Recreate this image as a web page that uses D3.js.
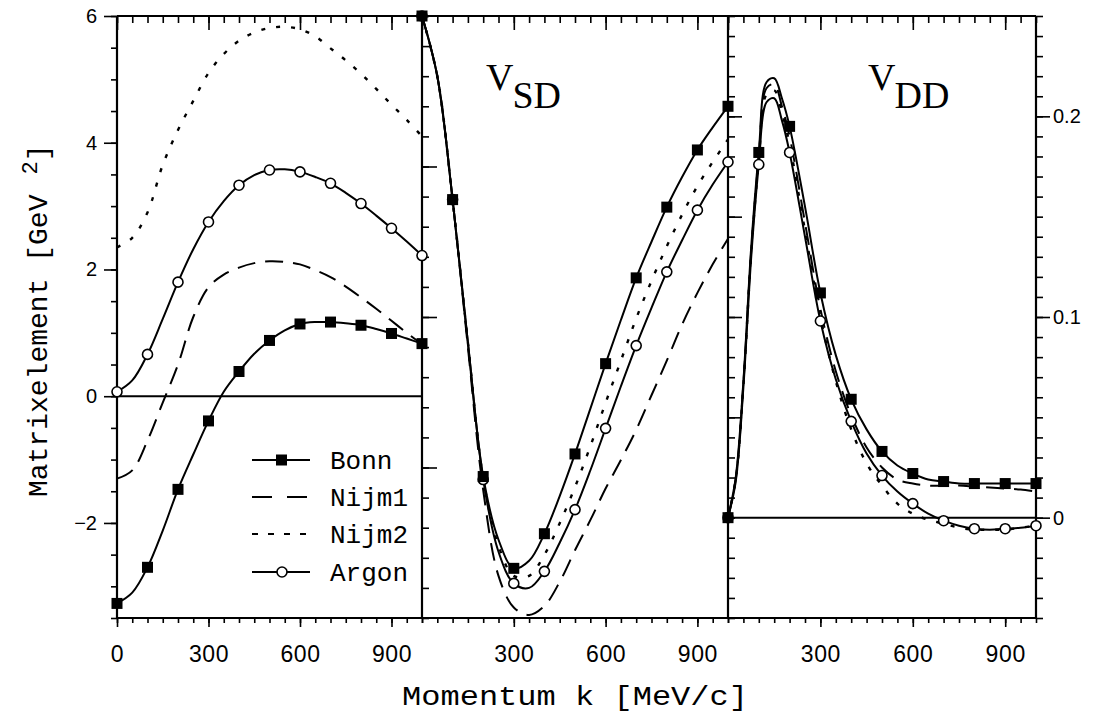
<!DOCTYPE html>
<html><head><meta charset="utf-8">
<script src="https://cdn.jsdelivr.net/npm/d3@7"></script>
<style>body{margin:0;background:#fff}</style>
</head><body>
<svg id="c" width="1098" height="721"></svg>
<script>
// ---- data ----
const kGrid   = [0,50,100,150,200,250,300,350,400,450,500,550,600,650,700,750,800,850,900,950,1000];
const kGridDD = [0,25,50,75,100,125,150,175,200,250,300,350,400,450,500,550,600,650,700,750,800,850,900,950,1000];
const seriesNames = ["Bonn","Nijm1","Nijm2","Argon"];
const xTickValuesFirst = [0,300,600,900];
const xTickLabelsFirst = ["0","300","600","900"];
const xTickValuesOther = [300,600,900];
const xTickLabelsOther = ["300","600","900"];
const yLeftTicks = [-2,0,2,4,6];
const yLeftTickLabels = ["\u22122","0","2","4","6"];
const yRightTicks = [0,0.1,0.2];
const yRightTickLabels = ["0","0.1","0.2"];

// left panel (V_SS), GeV^-2
const vssBonn  = [-3.27,-3.10,-2.70,-2.12,-1.47,-0.92,-0.39,0.07,0.39,0.67,0.88,1.04,1.14,1.17,1.17,1.15,1.12,1.06,0.99,0.91,0.83];
const vssNijm1 = [-1.30,-1.17,-0.70,-0.10,0.50,1.25,1.72,1.92,2.03,2.10,2.13,2.12,2.08,1.99,1.88,1.73,1.56,1.38,1.19,1.00,0.82];
const vssNijm2 = [2.35,2.50,2.90,3.65,4.20,4.66,5.10,5.40,5.61,5.74,5.81,5.83,5.79,5.68,5.49,5.30,5.09,4.85,4.60,4.36,4.10];
const vssArgon = [0.07,0.25,0.66,1.22,1.80,2.32,2.75,3.08,3.33,3.49,3.57,3.58,3.54,3.46,3.36,3.21,3.04,2.85,2.65,2.44,2.22];

// middle panel (V_SD), unlabeled scale
const vsdBonn  = [2.00,1.60,0.78,-0.17,-1.06,-1.48,-1.67,-1.62,-1.44,-1.19,-0.91,-0.61,-0.31,-0.02,0.26,0.50,0.73,0.93,1.11,1.26,1.40];
const vsdNijm1 = [2.00,1.60,0.78,-0.20,-1.15,-1.72,-1.93,-1.98,-1.92,-1.76,-1.55,-1.35,-1.14,-0.95,-0.75,-0.52,-0.29,-0.05,0.16,0.35,0.52];
const vsdNijm2 = [2.00,1.60,0.78,-0.17,-1.07,-1.52,-1.72,-1.72,-1.58,-1.37,-1.13,-0.86,-0.57,-0.29,-0.01,0.24,0.47,0.68,0.87,1.03,1.18];
const vsdArgon = [2.00,1.60,0.78,-0.17,-1.08,-1.56,-1.77,-1.80,-1.69,-1.50,-1.28,-1.02,-0.74,-0.46,-0.19,0.06,0.30,0.51,0.71,0.88,1.03];

// right panel (V_DD)
const vddBonn  = [0,0.020,0.068,0.134,0.182,0.217,0.219,0.209,0.195,0.155,0.112,0.081,0.059,0.044,0.033,0.026,0.022,0.019,0.018,0.017,0.017,0.017,0.017,0.017,0.017];
const vddNijm1 = [0,0.019,0.067,0.132,0.180,0.214,0.216,0.205,0.190,0.147,0.104,0.073,0.051,0.035,0.025,0.019,0.017,0.016,0.016,0.016,0.0155,0.015,0.0145,0.014,0.013];
const vddNijm2 = [0,0.019,0.066,0.131,0.178,0.211,0.213,0.202,0.186,0.143,0.100,0.068,0.044,0.027,0.016,0.007,0.002,-0.001,-0.003,-0.005,-0.006,-0.006,-0.006,-0.005,-0.004];
const vddArgon = [0,0.018,0.065,0.129,0.176,0.207,0.209,0.198,0.182,0.140,0.098,0.069,0.048,0.032,0.021,0.013,0.007,0.002,-0.0015,-0.004,-0.0055,-0.006,-0.0055,-0.005,-0.004];

// ---- layout ----
const svg = d3.select("#c");
const yTop = 16, yBot = 618;
const xL = d3.scaleLinear([0,1000],[117,422]);
const xM = d3.scaleLinear([0,1000],[422,728]);
const xR = d3.scaleLinear([0,1000],[728,1036]);
const yL = d3.scaleLinear([-3.5,6],[yBot,yTop]);
const yM = d3.scaleLinear([-2,2],[yBot,yTop]);
const yR = d3.scaleLinear([-0.05,0.25],[yBot,yTop]);

const styles = {
  Bonn:  {dash:null, w:2, marker:"square"},
  Nijm1: {dash:"18,10", w:2, marker:null},
  Nijm2: {dash:"4,11", w:2.4, marker:null},
  Argon: {dash:null, w:2, marker:"circle"}
};

const panels = [
  {x:xL, y:yL, k:kGrid,   s:{Bonn:vssBonn, Nijm1:vssNijm1, Nijm2:vssNijm2, Argon:vssArgon}},
  {x:xM, y:yM, k:kGrid,   s:{Bonn:vsdBonn, Nijm1:vsdNijm1, Nijm2:vsdNijm2, Argon:vsdArgon}},
  {x:xR, y:yR, k:kGridDD, s:{Bonn:vddBonn, Nijm1:vddNijm1, Nijm2:vddNijm2, Argon:vddArgon}}
];

function styleAxis(g){
  g.select(".domain").remove();
  g.selectAll(".tick line").attr("stroke","#000").attr("stroke-width",1.6);
  g.selectAll(".tick text").attr("fill","#000").attr("font-family","'Liberation Sans', Arial, sans-serif");
}

// axes / ticks
[xL,xM,xR].forEach((x,pi) => {
  const tv = pi===0 ? xTickValuesFirst : xTickValuesOther;
  const tl = pi===0 ? xTickLabelsFirst : xTickLabelsOther;
  svg.append("g").attr("transform",`translate(0,${yBot})`)
    .call(d3.axisBottom(x).tickValues(kGrid).tickSize(5).tickFormat("")).call(styleAxis);
  const gb = svg.append("g").attr("transform",`translate(0,${yBot})`)
    .call(d3.axisBottom(x).tickValues(tv).tickSize(9).tickPadding(19).tickFormat((d,i)=>tl[i])).call(styleAxis);
  gb.selectAll(".tick text").attr("font-size",23).attr("letter-spacing","0.6px");
  svg.append("g").attr("transform",`translate(0,${yTop})`)
    .call(d3.axisTop(x).tickValues(kGrid).tickSize(-7).tickFormat("")).call(styleAxis);
  svg.append("g").attr("transform",`translate(0,${yTop})`)
    .call(d3.axisTop(x).tickValues(xTickValuesFirst).tickSize(-14).tickFormat("")).call(styleAxis);
});

// left axis
svg.append("g").attr("transform",`translate(117,0)`)
  .call(d3.axisLeft(yL).tickValues(d3.range(-3.5,6.01,0.5)).tickSize(6).tickFormat("")).call(styleAxis);
const gl = svg.append("g").attr("transform",`translate(117,0)`)
  .call(d3.axisLeft(yL).tickValues(yLeftTicks).tickSize(13).tickPadding(7).tickFormat((d,i)=>yLeftTickLabels[i])).call(styleAxis);
gl.selectAll(".tick text").attr("font-size",20);

// middle panel inner ticks (on its left edge)
svg.append("g").attr("transform",`translate(422,0)`)
  .call(d3.axisRight(yM).tickValues(d3.range(-2,2.01,0.2)).tickSize(7).tickFormat("")).call(styleAxis);
svg.append("g").attr("transform",`translate(422,0)`)
  .call(d3.axisRight(yM).tickValues([-1,0,1]).tickSize(15).tickFormat("")).call(styleAxis);

// right panel inner ticks (on its left edge)
svg.append("g").attr("transform",`translate(728,0)`)
  .call(d3.axisRight(yR).tickValues(d3.range(-0.05,0.2501,0.01)).tickSize(7).tickFormat("")).call(styleAxis);
svg.append("g").attr("transform",`translate(728,0)`)
  .call(d3.axisRight(yR).tickValues([0.05,0.1,0.15,0.2]).tickSize(14).tickFormat("")).call(styleAxis);

// right axis
svg.append("g").attr("transform",`translate(1036,0)`)
  .call(d3.axisRight(yR).tickValues(d3.range(-0.05,0.2501,0.01)).tickSize(7).tickFormat("")).call(styleAxis);
const gr = svg.append("g").attr("transform",`translate(1036,0)`)
  .call(d3.axisRight(yR).tickValues(yRightTicks).tickSize(14).tickPadding(3).tickFormat((d,i)=>yRightTickLabels[i])).call(styleAxis);
gr.selectAll(".tick text").attr("font-size",20);

// zero lines
svg.append("line").attr("x1",xL(0)).attr("x2",xL(1000)).attr("y1",yL(0)).attr("y2",yL(0)).attr("stroke","#000").attr("stroke-width",2);
svg.append("line").attr("x1",xR(0)).attr("x2",xR(1000)).attr("y1",yR(0)).attr("y2",yR(0)).attr("stroke","#000").attr("stroke-width",2);

// frame
const frame = svg.append("g").attr("stroke","#000").attr("stroke-width",2.2).attr("fill","none");
frame.append("line").attr("x1",117).attr("x2",1036).attr("y1",yTop).attr("y2",yTop);
frame.append("line").attr("x1",117).attr("x2",1036).attr("y1",yBot).attr("y2",yBot);
[117,422,728,1036].forEach(xx => frame.append("line").attr("x1",xx).attr("x2",xx).attr("y1",yTop).attr("y2",yBot));

// curves
const order = ["Nijm1","Nijm2","Argon","Bonn"];
panels.forEach(p => {
  const line = d3.line().x((d,i)=>p.x(p.k[i])).y(d=>p.y(d)).curve(d3.curveCatmullRom.alpha(0.5));
  order.forEach(name => {
    const st = styles[name];
    svg.append("path").datum(p.s[name]).attr("d",line)
      .attr("fill","none").attr("stroke","#000").attr("stroke-width",st.w)
      .attr("stroke-dasharray",st.dash);
  });
  const pts = name => p.s[name].map((v,i)=>({k:p.k[i],v})).filter(d=>d.k%100===0);
  svg.append("g").selectAll("circle").data(pts("Argon")).join("circle")
    .attr("cx",d=>p.x(d.k)).attr("cy",d=>p.y(d.v)).attr("r",5)
    .attr("fill","#fff").attr("stroke","#000").attr("stroke-width",1.6);
  svg.append("g").selectAll("rect").data(pts("Bonn")).join("rect")
    .attr("x",d=>p.x(d.k)-5.5).attr("y",d=>p.y(d.v)-5.5).attr("width",11).attr("height",11)
    .attr("fill","#000");
});

// panel labels
function vlabel(x, sub){
  const t = svg.append("text").attr("x",x).attr("y",90)
    .attr("font-family","'Liberation Serif','Times New Roman',serif").attr("font-size",38).attr("fill","#000");
  t.append("tspan").text("V");
  t.append("tspan").attr("dx",-1).attr("dy",18).text(sub);
}
vlabel(486,"SD");
vlabel(868,"DD");

// legend
const legRows = [460,497,534,572];
const leg = svg.append("g");
seriesNames.forEach((name,i) => {
  const yy = legRows[i], st = styles[name];
  const dash = name==="Nijm1" ? "20,15" : name==="Nijm2" ? "6,10" : null;
  leg.append("line").attr("x1",252).attr("x2",310).attr("y1",yy).attr("y2",yy)
    .attr("stroke","#000").attr("stroke-width",2).attr("stroke-dasharray",dash);
  if (st.marker==="square") leg.append("rect").attr("x",276).attr("y",yy-5.5).attr("width",11).attr("height",11).attr("fill","#000");
  if (st.marker==="circle") leg.append("circle").attr("cx",282).attr("cy",yy).attr("r",5).attr("fill","#fff").attr("stroke","#000").attr("stroke-width",1.6);
  leg.append("text").attr("x",330).attr("y",yy+9)
    .attr("font-family","'Liberation Mono','DejaVu Sans Mono',monospace").attr("font-size",26).attr("fill","#000").text(name);
});

// axis titles
svg.append("text").attr("x",402).attr("y",705)
  .attr("font-family","'Liberation Mono','DejaVu Sans Mono',monospace").attr("font-size",27)
  .attr("textLength",346).attr("lengthAdjust","spacingAndGlyphs").attr("fill","#000")
  .text("Momentum k [MeV/c]");
const yt = svg.append("text").attr("transform","translate(47,497) rotate(-90)")
  .attr("font-family","'Liberation Mono','DejaVu Sans Mono',monospace").attr("font-size",28).attr("fill","#000");
yt.append("tspan").text("Matrixelement [GeV");
yt.append("tspan").attr("dx",20).attr("dy",-10).attr("font-size",22).text("2");
yt.append("tspan").attr("dy",10).text("]");
</script>
</body></html>
